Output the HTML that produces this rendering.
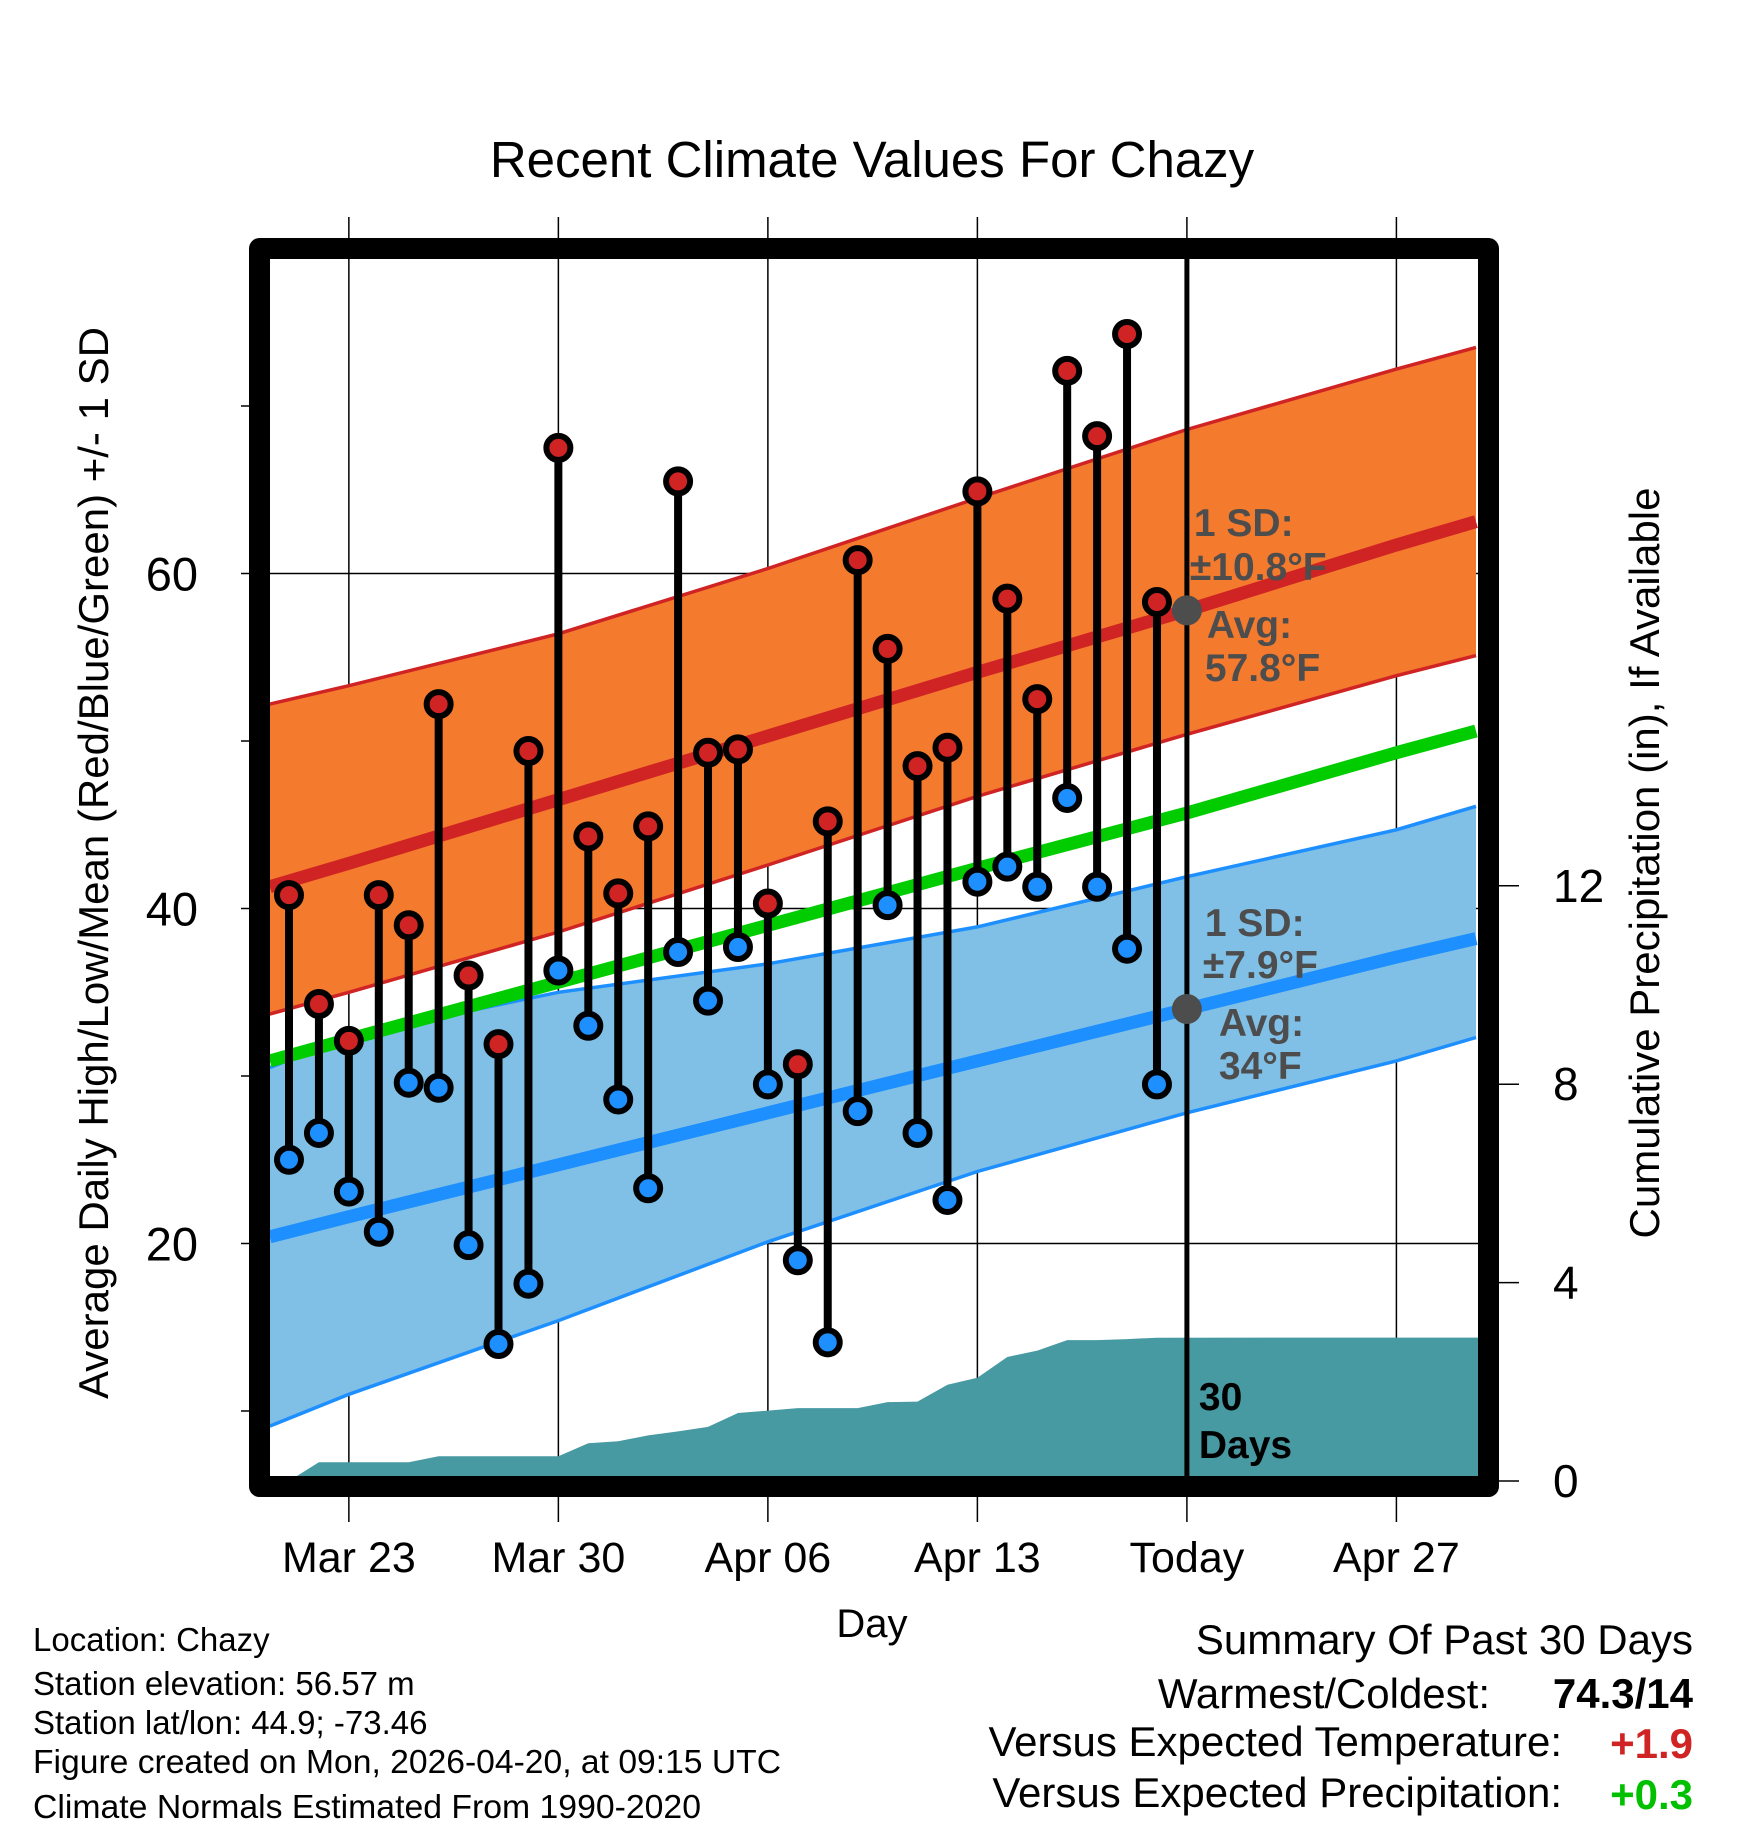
<!DOCTYPE html>
<html><head><meta charset="utf-8"><style>
html,body{margin:0;padding:0;background:#fff;}
svg{display:block;font-family:"Liberation Sans",Arial,sans-serif;}
</style></head><body>
<svg id="chart" width="1748" height="1828" viewBox="0 0 1748 1828" xmlns="http://www.w3.org/2000/svg">
<defs><clipPath id="plotclip"><rect x="270" y="259" width="1208" height="1217"/></clipPath></defs>
<text x="872" y="177" font-size="51" text-anchor="middle">Recent Climate Values For Chazy</text>
<g id="grid"></g>
<g id="plot" clip-path="url(#plotclip)"></g>
<rect x="259.5" y="248.5" width="1229" height="1238" fill="none" stroke="#000" stroke-width="21" stroke-linejoin="round"/>
<g id="axes"></g>
<text transform="translate(108,863) rotate(-90)" font-size="42" text-anchor="middle">Average Daily High/Low/Mean (Red/Blue/Green) +/- 1 SD</text>
<text transform="translate(1659,863) rotate(-90)" font-size="42" text-anchor="middle">Cumulative Precipitation (in), If Available</text>
<text x="872" y="1637" font-size="40" text-anchor="middle">Day</text>
<g font-size="33">
<text x="33" y="1651">Location: Chazy</text>
<text x="33" y="1695">Station elevation: 56.57 m</text>
<text x="33" y="1734">Station lat/lon: 44.9; -73.46</text>
<text x="33" y="1773" textLength="748" lengthAdjust="spacingAndGlyphs">Figure created on Mon, 2026-04-20, at 09:15 UTC</text>
<text x="33" y="1818" textLength="668" lengthAdjust="spacingAndGlyphs">Climate Normals Estimated From 1990-2020</text>
</g>
<g font-size="42" text-anchor="end">
<text x="1693" y="1654">Summary Of Past 30 Days</text>
<text x="1490" y="1708">Warmest/Coldest:</text>
<text x="1693" y="1708" font-weight="bold">74.3/14</text>
<text x="1562" y="1756">Versus Expected Temperature:</text>
<text x="1693" y="1758" font-weight="bold" fill="#d02424">+1.9</text>
<text x="1562" y="1807">Versus Expected Precipitation:</text>
<text x="1693" y="1809" font-weight="bold" fill="#00c000">+0.3</text>
</g>
</svg>
<script>
// ---- data ----
const dayLabels = ["Mar 23","Mar 30","Apr 06","Apr 13","Today","Apr 27"];
const dayLabelPos = [2,9,16,23,30,37]; // day index (0 = Mar 21)
const highs = [40.8,34.3,32.1,40.8,39.0,52.2,36.0,31.9,49.4,67.5,44.3,40.9,44.9,65.5,49.3,49.5,40.3,30.7,45.2,60.8,55.5,48.5,49.6,64.9,58.5,52.5,72.1,68.2,74.3,58.3];
const lows = [25.0,26.6,23.1,20.7,29.6,29.3,19.9,14.0,17.6,36.3,33.0,28.6,23.3,37.4,34.5,37.7,29.5,19.0,14.1,27.9,40.2,26.6,22.6,41.6,42.5,41.3,46.6,41.3,37.6,29.5];
const precip = [0,0.38,0.38,0.38,0.38,0.5,0.5,0.5,0.5,0.5,0.76,0.8,0.92,1.0,1.09,1.37,1.42,1.47,1.47,1.47,1.59,1.6,1.94,2.08,2.5,2.63,2.84,2.84,2.86,2.89];
const normDays = [-0.64,2,9,16,23,30,37,39.66];
const normHigh = [41.3,42.7,46.5,50.3,54.1,57.8,61.7,63.1];
const normHighUp = [52.2,53.3,56.4,60.3,64.5,68.6,72.2,73.5];
const normHighLo = [33.7,35.0,38.6,42.6,46.7,50.4,53.9,55.1];
const normMean = [30.9,32.2,35.6,39.0,42.4,45.7,49.3,50.6];
const normLow = [20.4,21.6,24.7,27.8,30.9,34.0,37.1,38.2];
const normLowUp = [30.5,32.4,35.0,36.7,38.9,41.9,44.7,46.1];
const normLowLo = [9.1,11.0,15.4,20.1,24.3,27.8,30.9,32.3];
const yTicks = [20,40,60];
const yMinor = [10,30,50,70];
const pTicks = [0,4,8,12];
const todayIdx = 30;
const todayHighAvg = 57.8, todayLowAvg = 34;

// ---- axes functions ----
const X = d => 289 + d*29.93;
const Y = t => 573.5 + (60 - t)*16.75;
const P = p => 1481 - p*49.6;
const NS = "http://www.w3.org/2000/svg";
function mk(tag, attrs, parent){const e=document.createElementNS(NS,tag);for(const k in attrs)e.setAttribute(k,attrs[k]);parent.appendChild(e);return e;}
const grid=document.getElementById('grid'), plot=document.getElementById('plot'), axes=document.getElementById('axes');

dayLabelPos.forEach((d,i)=>{
  const l=mk('line',{x1:X(d),x2:X(d),y1:217,y2:1522,stroke:'#000','stroke-width':1.5},grid);
  
  
  const t=mk('text',{x:X(d),y:1572,'font-size':43,'text-anchor':'middle'},axes);
  t.textContent=dayLabels[i];
  
  
});
yTicks.forEach(v=>{
  const l=mk('line',{x1:241,x2:1480,y1:Y(v),y2:Y(v),stroke:'#000','stroke-width':1.5},grid);
  
  
  const t=mk('text',{x:198,y:Y(v)+17,'font-size':47,'text-anchor':'end'},axes);
  t.textContent=v;
  
  
});
yMinor.forEach(v=>{
  const l=mk('line',{x1:241,x2:252,y1:Y(v),y2:Y(v),stroke:'#000','stroke-width':1.5},grid);
  
  
});
pTicks.forEach(v=>{
  const l=mk('line',{x1:1495,x2:1519,y1:P(v),y2:P(v),stroke:'#000','stroke-width':1.5},axes);
  
  
  const t=mk('text',{x:1553,y:P(v)+16,'font-size':46,'text-anchor':'start'},axes);
  t.textContent=v;
  
  
});

function pts(arr){return normDays.map((d,i)=>X(d).toFixed(1)+','+Y(arr[i]).toFixed(1));}
function band(up,lo,fill,stroke,name){
  const p=mk('polygon',{points:pts(up).concat(pts(lo).reverse()).join(' '),fill:fill},plot);
  
  
  [up,lo].forEach(a=>{const l=mk('polyline',{points:pts(a).join(' '),fill:'none',stroke:stroke,'stroke-width':3.5},plot);
    
    });
}
function line(arr,color,w,name){const l=mk('polyline',{points:pts(arr).join(' '),fill:'none',stroke:color,'stroke-width':w},plot);
  
  }

band(normHighUp,normHighLo,'#f47a2e','#d02424','high-sd-band');
band(normLowUp,normLowLo,'#80c0e6','#1e8fff','low-sd-band');
line(normHigh,'#d02424',13,'normal-high-line');
line(normLow,'#1e8fff',13,'normal-low-line');
line(normMean,'#00cc00',13,'normal-mean-line');

let pp=[X(-1)+','+P(0)];
precip.forEach((v,i)=>pp.push(X(i).toFixed(1)+','+P(v).toFixed(1)));
pp.push(X(40)+','+P(precip[precip.length-1]));
pp.push(X(40)+','+P(-1)); pp.push(X(-1)+','+P(-1));
const pa=mk('polygon',{points:pp.join(' '),fill:'#4799a2'},plot);



const tl=mk('line',{x1:X(todayIdx),x2:X(todayIdx),y1:255,y2:1480,stroke:'#000','stroke-width':5},plot);



highs.forEach((h,i)=>{
  const s=mk('line',{x1:X(i),x2:X(i),y1:Y(h),y2:Y(lows[i]),stroke:'#000','stroke-width':8},plot);
  
  
});
highs.forEach((h,i)=>{
  const c=mk('circle',{cx:X(i),cy:Y(h),r:12,fill:'#d02424',stroke:'#000','stroke-width':6},plot);
  
  
  const c2=mk('circle',{cx:X(i),cy:Y(lows[i]),r:12,fill:'#1e8fff',stroke:'#000','stroke-width':6},plot);
  
  
});
[todayHighAvg,todayLowAvg].forEach(v=>{
  const c=mk('circle',{cx:X(todayIdx),cy:Y(v),r:15,fill:'#4d4d4d'},plot);
  
  
});

function ann(txt,x,y,color,name){const t=mk('text',{x:x,y:y,'font-size':39,'font-weight':'bold',fill:color},plot);
  t.textContent=txt;
  
  }
const tx=X(todayIdx);
ann('1 SD:',tx+7,536,'#4d4d4d','high-sd-label');
ann('\u00B110.8\u00B0F',tx+3,580,'#4d4d4d','high-sd-value');
ann('Avg:',tx+20,638,'#4d4d4d','high-avg-label');
ann('57.8\u00B0F',tx+18,681,'#4d4d4d','high-avg-value');
ann('1 SD:',tx+18,936,'#4d4d4d','low-sd-label');
ann('\u00B17.9\u00B0F',tx+16,978,'#4d4d4d','low-sd-value');
ann('Avg:',tx+32,1036,'#4d4d4d','low-avg-label');
ann('34\u00B0F',tx+32,1079,'#4d4d4d','low-avg-value');
ann('30',tx+12,1410,'#000','days-count-label');
ann('Days',tx+12,1458,'#000','days-label');
</script>
</body></html>
